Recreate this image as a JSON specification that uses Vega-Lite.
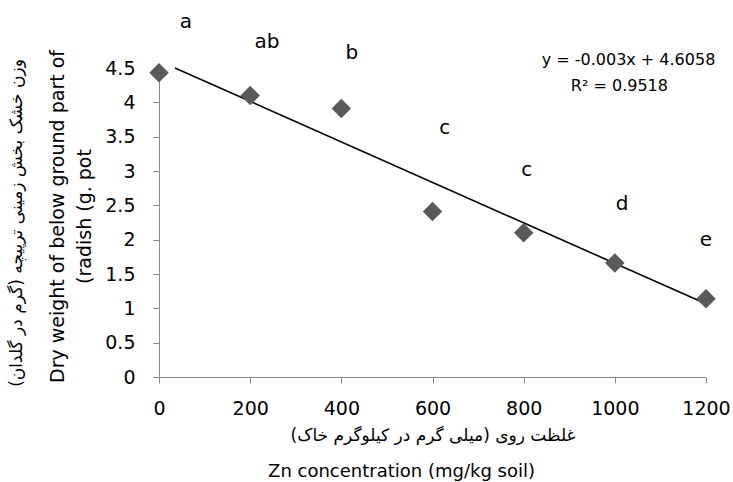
{
  "$schema": "https://vega.github.io/schema/vega-lite/v6.json",
  "width": 547,
  "height": 309,
  "autosize": "none",
  "padding": {"left": 159, "top": 68, "right": 27, "bottom": 105},
  "config": {"view": {"stroke": null}, "font": "DejaVu Sans"},
  "datasets": {
    "points": [
      {"zn": 0, "w": 4.43},
      {"zn": 200, "w": 4.1},
      {"zn": 400, "w": 3.91},
      {"zn": 600, "w": 2.41},
      {"zn": 800, "w": 2.1},
      {"zn": 1000, "w": 1.66},
      {"zn": 1200, "w": 1.14}
    ],
    "trend": [
      {"zn": 35, "w": 4.5},
      {"zn": 1195, "w": 1.08}
    ],
    "letters": [
      {"zn": 59, "w": 5.17, "t": "a"},
      {"zn": 237, "w": 4.88, "t": "ab"},
      {"zn": 423, "w": 4.72, "t": "b"},
      {"zn": 627, "w": 3.62, "t": "c"},
      {"zn": 807, "w": 3.01, "t": "c"},
      {"zn": 1016, "w": 2.52, "t": "d"},
      {"zn": 1200, "w": 1.99, "t": "e"}
    ],
    "eq": [
      {"zn": 1030, "w": 4.61, "t": "y = -0.003x + 4.6058"},
      {"zn": 1010, "w": 4.24, "t": "R² = 0.9518"}
    ],
    "dummy": [{"zn": 0, "w": 0}]
  },
  "resolve": {"axis": {"x": "independent", "y": "independent"}},
  "layer": [
    {
      "data": {"name": "trend"},
      "mark": {"type": "line", "color": "black", "strokeWidth": 1.6, "clip": false},
      "encoding": {
        "x": {"field": "zn", "type": "quantitative", "scale": {"domain": [0, 1200], "nice": false, "zero": false}, "axis": null},
        "y": {"field": "w", "type": "quantitative", "scale": {"domain": [0, 4.5], "nice": false, "zero": false}, "axis": null}
      }
    },
    {
      "data": {"name": "points"},
      "mark": {"type": "point", "shape": "diamond", "filled": true, "color": "#5a5a5a", "opacity": 1, "size": 380, "clip": false},
      "encoding": {
        "x": {"field": "zn", "type": "quantitative",
          "axis": {
            "values": [0, 200, 400, 600, 800, 1000, 1200],
            "format": "d",
            "grid": false, "domainColor": "#888888", "tickColor": "#888888", "tickSize": 6,
            "labelFontSize": 19, "labelColor": "black", "labelPadding": 16, "labelFlush": false,
            "title": "غلظت روی (میلی گرم در کیلوگرم خاک)",
            "titleFont": "DejaVu Sans", "titleFontSize": 17, "titleFontWeight": "normal", "titleColor": "black", "titlePadding": 9
          }
        },
        "y": {"field": "w", "type": "quantitative",
          "axis": {
            "values": [0, 0.5, 1, 1.5, 2, 2.5, 3, 3.5, 4, 4.5],
            "format": "~g",
            "grid": false, "domainColor": "#888888", "tickColor": "#888888", "tickSize": 6,
            "labelFontSize": 19, "labelColor": "black", "labelPadding": 18, "labelFlush": false,
            "title": ["Dry weight of below ground part of", "(radish (g. pot"],
            "titleFontSize": 19, "titleFontWeight": "normal", "titleColor": "black", "titlePadding": 10, "titleLineHeight": 27,
            "titleY": 148
          }
        }
      }
    },
    {
      "data": {"name": "letters"},
      "mark": {"type": "text", "fontSize": 20, "color": "black", "align": "center", "baseline": "middle", "clip": false},
      "encoding": {
        "x": {"field": "zn", "type": "quantitative", "axis": null},
        "y": {"field": "w", "type": "quantitative", "axis": null},
        "text": {"field": "t"}
      }
    },
    {
      "data": {"name": "eq"},
      "mark": {"type": "text", "fontSize": 16, "color": "black", "align": "center", "baseline": "middle", "clip": false},
      "encoding": {
        "x": {"field": "zn", "type": "quantitative", "axis": null},
        "y": {"field": "w", "type": "quantitative", "axis": null},
        "text": {"field": "t"}
      }
    },
    {
      "data": {"name": "dummy"},
      "mark": {"type": "point", "opacity": 0},
      "encoding": {
        "x": {"field": "zn", "type": "quantitative",
          "axis": {"orient": "bottom", "labels": false, "ticks": false, "domain": false, "grid": false,
            "title": "Zn concentration (mg/kg soil)", "titleFontSize": 18, "titleFontWeight": "normal", "titleColor": "black",
            "titlePadding": 85, "titleX": 242}
        },
        "y": {"field": "w", "type": "quantitative",
          "axis": {"orient": "left", "labels": false, "ticks": false, "domain": false, "grid": false,
            "title": "وزن خشک بخش زمینی ترپیچه (گرم در گلدان)", "titleFont": "DejaVu Sans", "titleFontSize": 17, "titleFontWeight": "normal", "titleColor": "black",
            "titlePadding": 134}
        }
      }
    }
  ]
}
